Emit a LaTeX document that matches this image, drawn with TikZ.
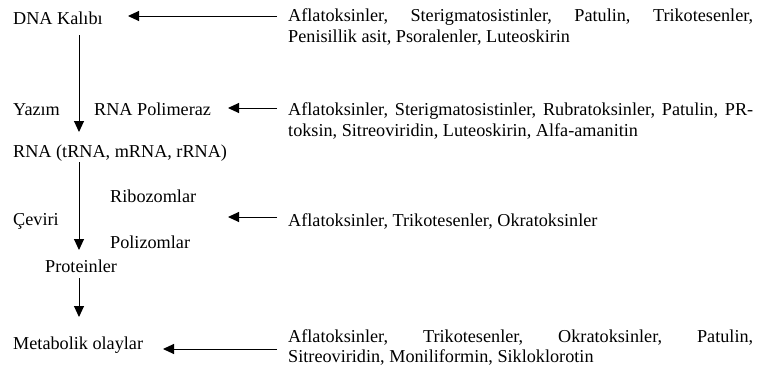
\documentclass[tikz,border=0pt]{standalone}
\usepackage{fontspec}
\setmainfont{Liberation Serif}
\usetikzlibrary{arrows.meta}
\begin{document}
\begin{tikzpicture}[x=1pt,y=-1pt,
  lbl/.style={inner sep=0pt, anchor=base west, font=\fontsize{18.2}{21.6}\selectfont},
  arr/.style={-{Triangle[length=11pt,width=10pt]}, line width=1pt}]
\useasboundingbox (0,0) rectangle (757,372);
% left column
\node[lbl] (dna) at (13,24) {DNA Kalıbı};
\node[lbl] (yazim) at (13,115) {Yazım};
\node[lbl] (pol) at (94,115) {RNA Polimeraz};
\node[lbl] (rna) at (13,157) {RNA (tRNA, mRNA, rRNA)};
\node[lbl] (ribo) at (110,202) {Ribozomlar};
\node[lbl] (ceviri) at (13,225) {Çeviri};
\node[lbl] (poli) at (110,248) {Polizomlar};
\node[lbl] (prot) at (45,272) {Proteinler};
\node[lbl] (meta) at (13,349) {Metabolik olaylar};
% right column
\node[lbl] (r1) at (288,21) {\parbox[t]{465pt}{\hyphenpenalty=10000 Aflatoksinler, Sterigmatosistinler, Patulin, Trikotesenler,\linebreak Penisillik asit, Psoralenler, Luteoskirin}};
\node[lbl] (r2) at (288,115) {\parbox[t]{465pt}{\hyphenpenalty=10000 Aflatoksinler, Sterigmatosistinler, Rubratoksinler, Patulin, PR-\linebreak toksin, Sitreoviridin, Luteoskirin, Alfa-amanitin}};
\node[lbl] (r3) at (288,226) {Aflatoksinler, Trikotesenler, Okratoksinler};
\node[lbl] (r4) at (288,342) {\parbox[t]{465pt}{\fontsize{18.2}{20}\selectfont\hyphenpenalty=10000 Aflatoksinler, Trikotesenler, Okratoksinler, Patulin,\linebreak Sitreoviridin, Moniliformin, Sikloklorotin}};
% connector end points
\coordinate (t1) at (277,16);  \coordinate (h1) at (128,16);
\coordinate (t2) at (277,108); \coordinate (h2) at (228,108);
\coordinate (t3) at (277,217); \coordinate (h3) at (228,217);
\coordinate (t4) at (277,349); \coordinate (h4) at (163,349);
\coordinate (v1s) at (79,35);  \coordinate (v1e) at (79,132);
\coordinate (v2s) at (79,162); \coordinate (v2e) at (79,250);
\coordinate (v3s) at (79,278); \coordinate (v3e) at (79,317);
\draw[arr] (t1) -- (h1);
\draw[arr] (t2) -- (h2);
\draw[arr] (t3) -- (h3);
\draw[arr] (t4) -- (h4);
\draw[arr] (v1s) -- (v1e);
\draw[arr] (v2s) -- (v2e);
\draw[arr] (v3s) -- (v3e);
\end{tikzpicture}
\end{document}
